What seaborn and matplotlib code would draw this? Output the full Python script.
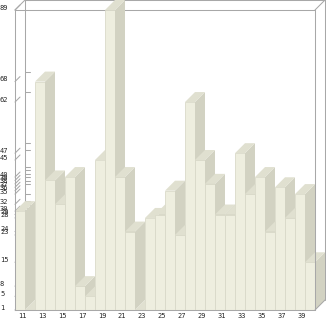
import matplotlib
matplotlib.use("Agg")
import matplotlib.pyplot as plt
import seaborn as sns
import pandas as pd
import numpy as np
from matplotlib.patches import Polygon
from matplotlib.transforms import ScaledTranslation

# ---- data ----
categories = [str(n) for n in range(11, 41)]
values = [30, 1, 68, 39, 32, 40, 8, 5, 45, 89,
          40, 24, 1, 28, 29, 36, 23, 62, 45, 38,
          29, 29, 47, 35, 40, 24, 37, 28, 35, 15]
xtick_labels = [str(n) for n in range(11, 40, 2)]
y_ticks = sorted(set(values))

FRONT = "#EEEEDF"
SIDE = "#D2D2C2"
TOP = "#E0E0D0"
EDGE = "#DADACA"
FRAME = "#A8A8A8"

sns.set_style("white")
fig = plt.figure(figsize=(3.26, 3.21), dpi=100)
W, H = 326, 321
ax = fig.add_axes([15 / W, 11 / H, 300 / W, 300 / H])

df = pd.DataFrame({"num": categories, "val": values})
sns.barplot(data=df, x="num", y="val", order=categories, color=FRONT,
            saturation=1, width=1.0, edgecolor=EDGE, linewidth=0.6, ax=ax)

ymin, ymax = 1, 89
n = len(categories)
ax.set_xlim(-0.5, n - 0.5)
ax.set_ylim(ymin, ymax)

# depth offset (10 px right, 10 px up) in data units
dx = 10 / (300 / n)
dy = 10 / (300 / (ymax - ymin))

for i, (p, v) in enumerate(zip(ax.patches, values)):
    z = 3 + 3 * i
    p.set_zorder(z)
    side = Polygon([(i + 0.5, ymin), (i + 0.5, v), (i + 0.5 + dx, v + dy),
                    (i + 0.5 + dx, ymin + dy)], closed=True,
                   facecolor=SIDE, edgecolor="none", zorder=z + 1, clip_on=False)
    top = Polygon([(i - 0.5, v), (i + 0.5, v), (i + 0.5 + dx, v + dy),
                   (i - 0.5 + dx, v + dy)], closed=True,
                  facecolor=TOP, edgecolor="none", zorder=z + 2, clip_on=False)
    ax.add_patch(side)
    ax.add_patch(top)

lw = 0.75
x0, x1 = -0.5, n - 0.5
# back wall frame
ax.plot([x0 + dx, x0 + dx], [ymin + dy, ymax + dy], color=FRAME, lw=lw, clip_on=False, zorder=1)
ax.plot([x0 + dx, x1 + dx], [ymax + dy, ymax + dy], color=FRAME, lw=lw, clip_on=False, zorder=1)
ax.plot([x1 + dx, x1 + dx], [ymin + dy, ymax + dy], color=FRAME, lw=lw, clip_on=False, zorder=1)
# front top and right lines
ax.plot([x0, x1], [ymax, ymax], color=FRAME, lw=lw, clip_on=False, zorder=1.5)
ax.plot([x1, x1], [ymin, ymax], color=FRAME, lw=lw, clip_on=False, zorder=200)
# diagonals
ax.plot([x0, x0 + dx], [ymax, ymax + dy], color=FRAME, lw=lw, clip_on=False, zorder=1)
ax.plot([x1, x1 + dx], [ymax, ymax + dy], color=FRAME, lw=lw, clip_on=False, zorder=1)
ax.plot([x1, x1 + dx], [ymin, ymin + dy], color=FRAME, lw=lw, clip_on=False, zorder=200)

# back wall ticks and diagonal front ticks
for t in y_ticks:
    ax.plot([x0 + dx, x0 + 1.5 * dx], [t + dy, t + dy], color=FRAME, lw=lw,
            clip_on=False, zorder=1)
    ax.plot([x0, x0 + 0.5 * dx], [t, t + 0.5 * dy], color=FRAME, lw=lw,
            clip_on=False, zorder=1)

for s in ["top", "right"]:
    ax.spines[s].set_visible(False)
for s in ["left", "bottom"]:
    ax.spines[s].set_color(FRAME)
    ax.spines[s].set_linewidth(lw)
    ax.spines[s].set_zorder(300)

ax.set_xlabel("")
ax.set_ylabel("")
ax.set_xticks(range(0, n - 1, 2))
ax.set_xticklabels(xtick_labels, fontsize=5, family="DejaVu Sans Mono")
ax.set_yticks(y_ticks)
ax.set_yticklabels([str(t) for t in y_ticks], fontsize=5, family="DejaVu Sans Mono")
ax.tick_params(axis="x", length=0, pad=2.0)
ax.tick_params(axis="y", length=0, pad=10.8)
for lab in ax.get_yticklabels():
    lab.set_horizontalalignment("left")
    lab.set_transform(lab.get_transform() + ScaledTranslation(0, 3 / 100, fig.dpi_scale_trans))
for lab in ax.get_xticklabels():
    lab.set_transform(lab.get_transform() + ScaledTranslation(2 / 100, 0, fig.dpi_scale_trans))

fig.savefig("out.png", dpi=100)
